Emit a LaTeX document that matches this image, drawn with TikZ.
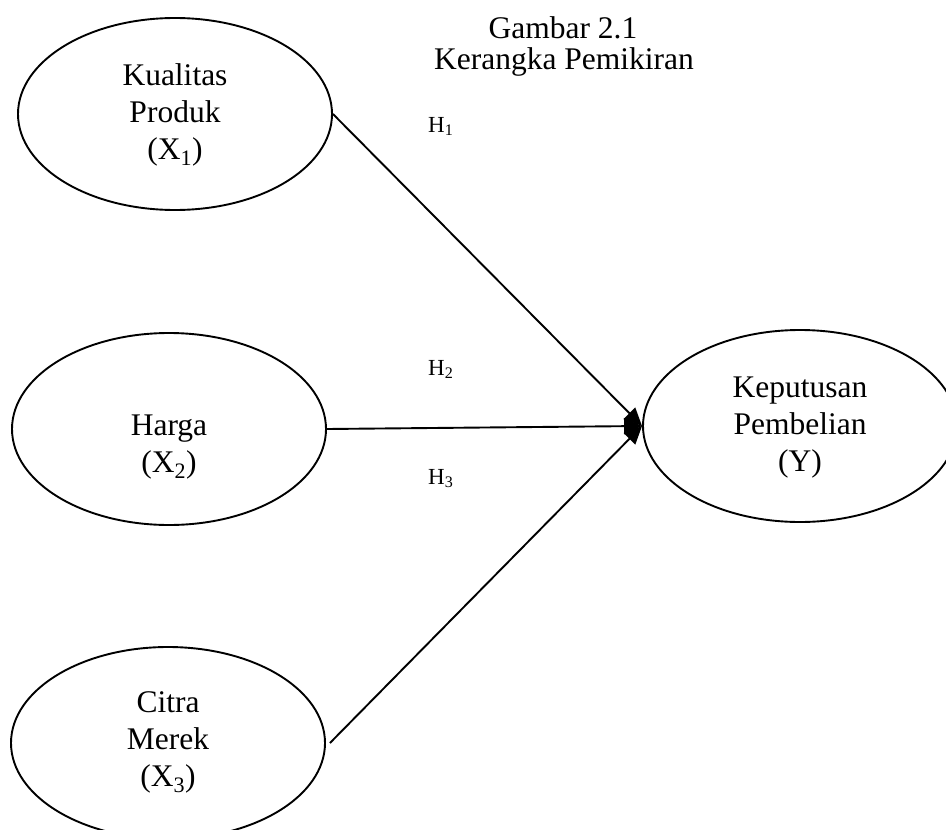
\documentclass[tikz,border=0pt]{standalone}
\usepackage{fontspec}
\setmainfont{Liberation Serif}
\usetikzlibrary{shapes.geometric,arrows.meta}
\begin{document}
\begin{tikzpicture}[x=1pt,y=-1pt,
  var/.style={draw, line width=1.9pt, ellipse, minimum width=314pt, minimum height=192pt, inner sep=0pt},
  vtext/.style={align=center, font=\fontsize{31.5}{37}\selectfont, inner sep=0pt},
  hyp/.style={font=\fontsize{23}{27}\selectfont, inner sep=0pt, anchor=base west},
  link/.style={line width=1.9pt, -{Triangle[length=18pt,width=16pt]}}
]
\useasboundingbox (0,0) rectangle (946,830);
\clip (0,0) rectangle (946,830);
\node[var] (x1) at (175,114) {};
\node[vtext] (x1t) at (175,115) {Kualitas\\Produk\\(X\textsubscript{1})};
\node[var] (x2) at (169,429) {};
\node[vtext] (x2t) at (169,447) {Harga\\(X\textsubscript{2})};
\node[var] (x3) at (168,743) {};
\node[vtext] (x3t) at (168,742) {Citra\\Merek\\(X\textsubscript{3})};
\node[var] (y) at (800,426) {};
\node[vtext] (yt) at (800,428) {Keputusan\\Pembelian\\(Y)};
\node[vtext, anchor=base] (t1) at (563,38) {Gambar 2.1};
\node[vtext, anchor=base] (t2) at (564,69) {Kerangka Pemikiran};
\node[hyp] (h1) at (428,132) {H\textsubscript{1}};
\node[hyp] (h2) at (428,375) {H\textsubscript{2}};
\node[hyp] (h3) at (428,484) {H\textsubscript{3}};
\draw[link] (x1.east) -- (y.west);
\draw[link] (x2.east) -- (y.west);
\draw[link] ([xshift=4pt]x3.east) -- (y.west);
\end{tikzpicture}
\end{document}
